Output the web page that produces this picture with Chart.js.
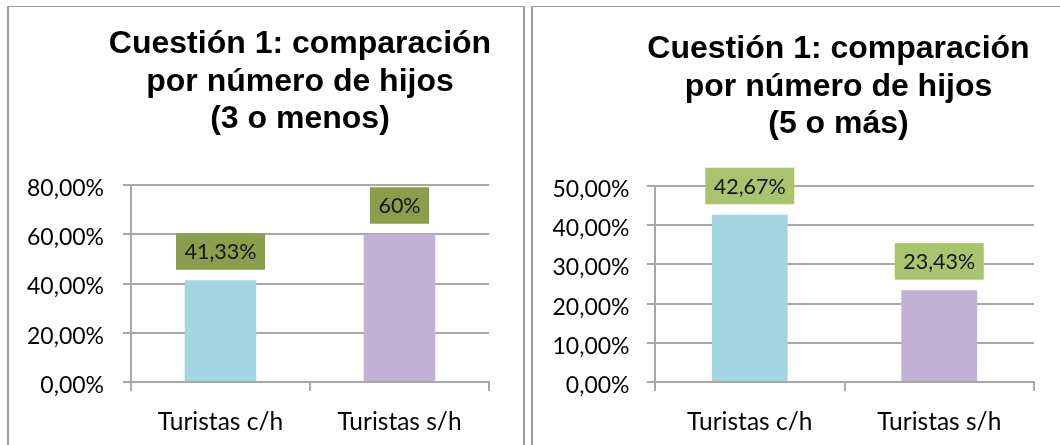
<!DOCTYPE html>
<html>
<head>
<meta charset="utf-8">
<script src="https://cdn.jsdelivr.net/npm/chart.js@4.4.1/dist/chart.umd.min.js"></script>
<style>
  body { margin: 0; background: #fff; width: 1060px; height: 445px; overflow: hidden; position: relative; }
  .marco { position: absolute; top: 6px; height: 460px; border: 2px solid #9d9d9d; border-top-width: 1px; border-bottom: none; }
  .lienzo { position: absolute; top: 8px; height: 437px; }
</style>
</head>
<body>
<div class="marco" style="left:7px; width:514px;"></div>
<div class="marco" style="left:531px; width:600px; border-right:none;"></div>
<div class="lienzo" style="left:9px; width:513px;"><canvas id="grafico1"></canvas></div>
<div class="lienzo" style="left:533px; width:527px;"><canvas id="grafico2"></canvas></div>
<script>
// datos
const categorias = ['Turistas c/h', 'Turistas s/h'];
const valores3oMenos = [41.33, 60];
const valores5oMas = [42.67, 23.43];
const ticks3oMenos = [0, 20, 40, 60, 80];
const ticks5oMas = [0, 10, 20, 30, 40, 50];
const titulo3oMenos = ['Cuestión 1: comparación', 'por número de hijos', '(3 o menos)'];
const titulo5oMas = ['Cuestión 1: comparación', 'por número de hijos', '(5 o más)'];

const fuente = 'Lato';
const gris = '#a8a8a8';

function etiquetaValor(v) {
  return String(v).replace('.', ',') + '%';
}

// titulo en varias lineas, centrado donde queremos
const pluginTitulo = {
  id: 'tituloLineas',
  afterDraw(chart, args, opts) {
    const ctx = chart.ctx;
    ctx.save();
    ctx.font = 'bold 32px "Liberation Sans", Arial, sans-serif';
    ctx.fillStyle = '#000';
    ctx.textAlign = 'center';
    ctx.textBaseline = 'alphabetic';
    opts.lineas.forEach((l, i) => ctx.fillText(l, opts.x, opts.y + i * opts.interlineado));
    ctx.restore();
  }
};

// etiquetas de datos con fondo verde
const pluginEtiquetas = {
  id: 'etiquetasCaja',
  afterDatasetsDraw(chart, args, opts) {
    const ctx = chart.ctx;
    const ds = chart.data.datasets[0];
    ctx.save();
    ctx.font = '21.5px ' + fuente;
    chart.getDatasetMeta(0).data.forEach((bar, i) => {
      const txt = etiquetaValor(ds.data[i]);
      const w = ctx.measureText(txt).width + 17;
      const h = 36.5;
      const abajo = bar.y - opts.separacion;
      ctx.fillStyle = opts.fondo;
      ctx.fillRect(bar.x - w / 2, abajo - h, w, h);
      ctx.fillStyle = '#151515';
      ctx.textAlign = 'center';
      ctx.textBaseline = 'middle';
      ctx.fillText(txt, bar.x, abajo - h / 2 + 1);
    });
    ctx.restore();
  }
};

function crearGrafico(id, valores, ticks, cfg) {
  new Chart(document.getElementById(id), {
    type: 'bar',
    data: {
      labels: categorias,
      datasets: [{
        data: valores,
        backgroundColor: ['#a3d5e3', '#c1b1d3'],
        categoryPercentage: 1,
        barPercentage: 0.4
      }]
    },
    options: {
      responsive: true,
      maintainAspectRatio: false,
      animation: false,
      layout: { padding: { top: cfg.arriba, right: cfg.derecha, left: 0, bottom: 0 } },
      plugins: {
        legend: { display: false },
        tooltip: { enabled: false },
        tituloLineas: { lineas: cfg.titulo, x: cfg.tituloX, y: cfg.tituloY, interlineado: 37.4 },
        etiquetasCaja: { fondo: cfg.fondo, separacion: 10.5 }
      },
      scales: {
        x: {
          grid: { display: true, drawOnChartArea: false, drawTicks: true, tickLength: 9, color: gris, lineWidth: 2, offset: true },
          border: { display: true, color: gris, width: 2 },
          ticks: { color: '#000', padding: 16, font: { family: fuente, size: 24.5 } },
          afterFit: (s) => { s.height = 63; }
        },
        y: {
          min: ticks[0],
          max: ticks[ticks.length - 1],
          afterBuildTicks: (s) => { s.ticks = ticks.map(v => ({ value: v })); },
          grid: { color: gris, lineWidth: 2, tickLength: 8 },
          border: { display: true, color: gris, width: 2 },
          ticks: {
            color: '#000',
            padding: cfg.padTicks,
            labelOffset: 3.5,
            font: { family: fuente, size: 23 },
            callback: (v) => v.toFixed(2).replace('.', ',') + '%'
          },
          afterFit: (s) => { s.width = 122; }
        }
      }
    },
    plugins: [pluginTitulo, pluginEtiquetas]
  });
}

crearGrafico('grafico1', valores3oMenos, ticks3oMenos, {
  arriba: 177, derecha: 33, padTicks: 19, fondo: '#8a9e4b',
  titulo: titulo3oMenos, tituloX: 300 - 9, tituloY: 45.3
});
crearGrafico('grafico2', valores5oMas, ticks5oMas, {
  arriba: 178, derecha: 26, padTicks: 17.5, fondo: '#a9c46c',
  titulo: titulo5oMas, tituloX: 838.5 - 533, tituloY: 50.3
});
</script>
</body>
</html>
